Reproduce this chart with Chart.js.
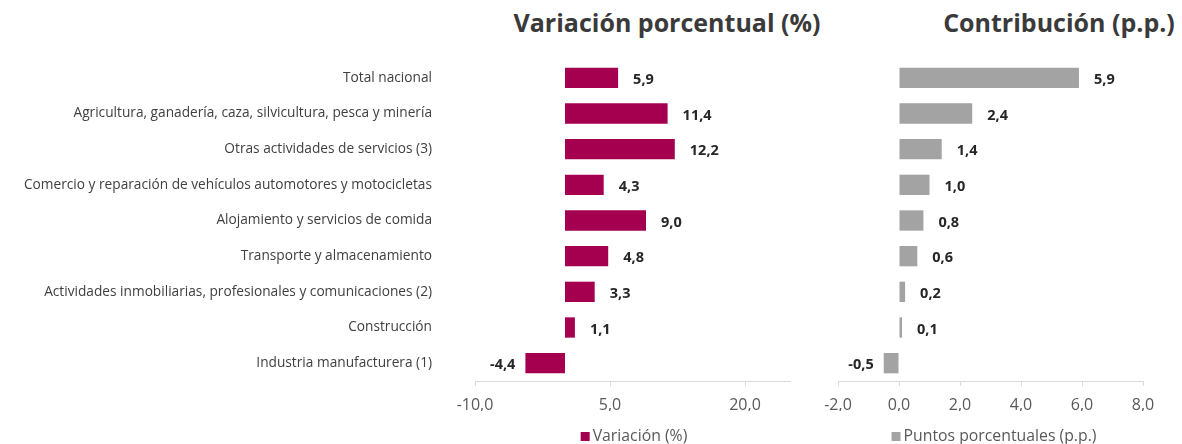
<!DOCTYPE html>
<html lang="es">
<head>
<meta charset="utf-8">
<script src="https://cdn.jsdelivr.net/npm/chart.js@4"></script>
<style>
body { margin:0; width:1182px; height:444px; background:#fff; position:relative; overflow:hidden; font-family:'Open Sans', sans-serif; }
.box { position:absolute; top:0; height:444px; }
.title { position:absolute; top:5px; font-weight:bold; font-size:25px; color:#3a3a3a; white-space:nowrap; transform:translateX(-50%); }
.legend { position:absolute; top:424px; font-size:15.8px; color:#595959; white-space:nowrap; transform:translateX(-50%); }
.legend span { display:inline-block; width:9px; height:9px; margin-right:3px; }
</style>
</head>
<body>
<div class="title" style="left:667px">Variación porcentual (%)</div>
<div class="title" style="left:1059px">Contribución (p.p.)</div>
<div class="box" style="left:0;width:800px"><canvas id="varChart"></canvas></div>
<div class="box" style="left:800px;width:382px"><canvas id="contChart"></canvas></div>
<div class="legend" style="left:634px"><span style="background:#a5004f"></span>Variación (%)</div>
<div class="legend" style="left:994px"><span style="background:#a3a3a3"></span>Puntos porcentuales (p.p.)</div>
<script>
const categories = [
    'Total nacional',
    'Agricultura, ganadería, caza, silvicultura, pesca y minería',
    'Otras actividades de servicios (3)',
    'Comercio y reparación de vehículos automotores y motocicletas',
    'Alojamiento y servicios de comida',
    'Transporte y almacenamiento',
    'Actividades inmobiliarias, profesionales y comunicaciones (2)',
    'Construcción',
    'Industria manufacturera (1)'
];
const variacion = [5.9, 11.4, 12.2, 4.3, 9.0, 4.8, 3.3, 1.1, -4.4];
const contribucion = [5.9, 2.4, 1.4, 1.0, 0.8, 0.6, 0.2, 0.1, -0.5];
const varTicks = [-10, 5, 20];
const contTicks = [-2, 0, 2, 4, 6, 8];

const fmt = v => v.toFixed(1).replace('.', ',');

// draws the value next to each bar end
const valueLabels = {
    id: 'valueLabels',
    afterDatasetsDraw(chart) {
        const ctx = chart.ctx;
        const data = chart.data.datasets[0].data;
        ctx.save();
        ctx.font = 'bold 14.5px "Open Sans"';
        ctx.fillStyle = '#262626';
        ctx.textBaseline = 'middle';
        chart.getDatasetMeta(0).data.forEach((bar, i) => {
            const v = data[i];
            if (v >= 0) {
                ctx.textAlign = 'left';
                ctx.fillText(fmt(v), bar.x + 15, bar.y + 2);
            } else {
                ctx.textAlign = 'right';
                ctx.fillText(fmt(v), bar.x - 10, bar.y + 2);
            }
        });
        ctx.restore();
    }
};

function xAxis(min, max, keep) {
    return {
        min: min, max: max,
        afterFit: s => { s.height = 30; },
        afterBuildTicks: s => { s.ticks = keep.map(v => ({ value: v })); },
        grid: { drawOnChartArea: false, drawTicks: true, tickLength: 5, color: '#d9d9d9' },
        border: { color: '#d9d9d9' },
        ticks: { padding: 10, color: '#595959', font: { family: 'Open Sans', size: 16 }, callback: v => fmt(v) }
    };
}

Chart.defaults.animation = false;

new Chart(document.getElementById('varChart'), {
    type: 'bar',
    data: {
        labels: categories,
        datasets: [{ label: 'Variación (%)', data: variacion, backgroundColor: '#a5004f', categoryPercentage: 1, barPercentage: 0.57 }]
    },
    options: {
        indexAxis: 'y',
        responsive: true,
        maintainAspectRatio: false,
        layout: { padding: { top: 60, bottom: 33, left: 0, right: 10 } },
        plugins: { legend: { display: false }, tooltip: { enabled: false } },
        scales: {
            x: xAxis(-10, 25, varTicks),
            y: {
                afterFit: s => { s.width = 475; },
                grid: { display: false },
                border: { display: false },
                ticks: { padding: 35, color: '#404040', font: { family: 'Open Sans', size: 13.7 } }
            }
        }
    },
    plugins: [valueLabels]
});

new Chart(document.getElementById('contChart'), {
    type: 'bar',
    data: {
        labels: categories,
        datasets: [{ label: 'Puntos porcentuales (p.p.)', data: contribucion, backgroundColor: '#a3a3a3', categoryPercentage: 1, barPercentage: 0.57 }]
    },
    options: {
        indexAxis: 'y',
        responsive: true,
        maintainAspectRatio: false,
        layout: { padding: { top: 60, bottom: 33, left: 38, right: 39 } },
        plugins: { legend: { display: false }, tooltip: { enabled: false } },
        scales: {
            x: xAxis(-2, 8, contTicks),
            y: { display: false }
        }
    },
    plugins: [valueLabels]
});
</script>
</body>
</html>
